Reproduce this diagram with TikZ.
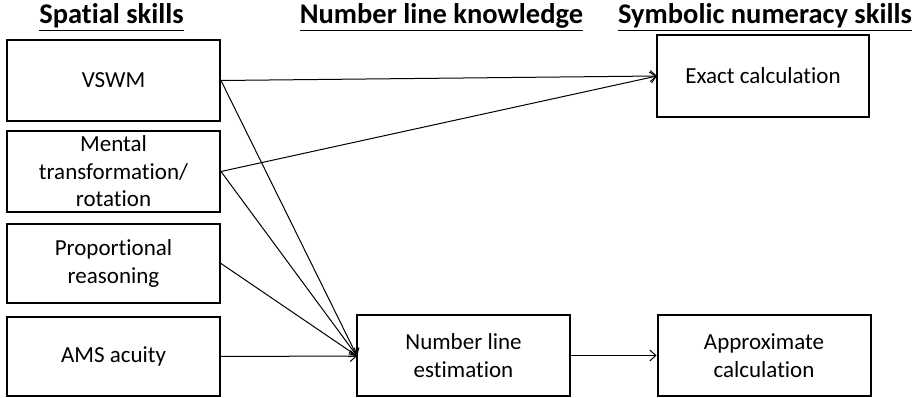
\documentclass[tikz,border=0pt]{standalone}
\usepackage{fontspec}
\setmainfont{Carlito}[RawFeature=-liga]
\usetikzlibrary{arrows.meta}
\begin{document}
\begin{tikzpicture}[x=1pt,y=-1pt,
  box/.style={draw=black,line width=2pt,minimum width=213pt,minimum height=81pt,inner sep=0pt,align=center,font=\fontsize{23}{27.5}\selectfont},
  hdr/.style={font=\fontsize{28.5}{32}\selectfont\bfseries,inner sep=0pt,anchor=base},
  conn/.style={line width=1pt,-{Straight Barb[length=6pt,width=11pt,line width=1pt]}}]
\useasboundingbox (0,0) rectangle (916,398);
\node[hdr] (h1) at (111.5,24) {\underline{Spatial skills}};
\node[hdr] (h2) at (441.5,24) {\underline{Number line knowledge}};
\node[hdr] (h3) at (765,24) {\underline{Symbolic numeracy skills}};
\node[box] (vswm) at (113.5,80.5) {VSWM};
\node[box] (ment) at (113.5,171.5) {Mental\\transformation/\\rotation};
\node[box,minimum height=79pt] (prop) at (113.5,263.5) {Proportional\\reasoning};
\node[box,minimum height=79pt] (ams) at (113.5,356.5) {AMS acuity};
\node[box,minimum height=81pt] (nle) at (463.5,355.5) {Number line\\estimation};
\node[box,minimum height=81pt] (appr) at (764,355.5) {Approximate\\calculation};
\node[box,minimum height=82pt,minimum width=212pt] (exact) at (763,76) {Exact calculation};
\coordinate (ein) at (657,76);
\coordinate (nin) at (357,356);
\draw[conn] (vswm.east) -- (ein);
\draw[conn] (ment.east) -- (ein);
\draw[conn] (vswm.east) -- (nin);
\draw[conn] (ment.east) -- (nin);
\draw[conn] (prop.east) -- (nin);
\draw[conn] (ams.east) -- (nin);
\draw[conn] (nle.east) -- (appr.west);
\end{tikzpicture}
\end{document}
